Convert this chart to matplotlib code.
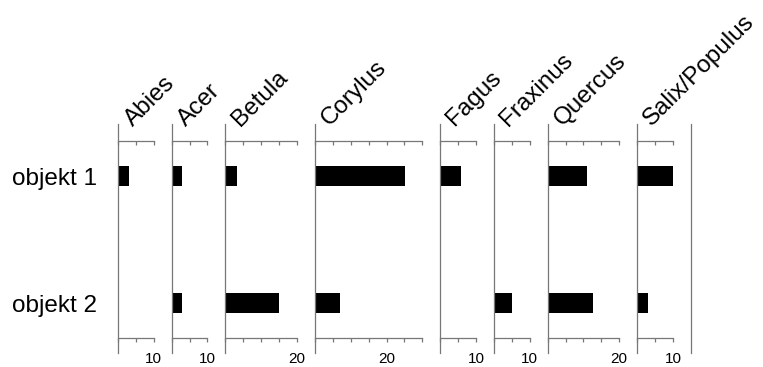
import numpy as np
import matplotlib
matplotlib.use("Agg")
import matplotlib.pyplot as plt

# data
taxa = ["Abies", "Acer", "Betula", "Corylus", "Fagus", "Fraxinus", "Quercus", "Salix/Populus"]
axis_max = [10, 10, 20, 30, 10, 10, 20, 10]
label_at = [10, 10, 20, 20, 10, 10, 20, 10]
samples = ["objekt 1", "objekt 2"]
objekt1 = [3.1, 3.0, 3.3, 25.1, 5.9, 0.0, 10.9, 10.0]
objekt2 = [0.0, 3.0, 15.1, 7.0, 0.0, 5.0, 12.8, 3.1]

plt.rcParams['font.family'] = ['Liberation Sans', 'DejaVu Sans']

W, H = 763, 367
fig = plt.figure(figsize=(W / 100, H / 100), dpi=100)

grey = '#777777'
unit = 3.58          # px per %
x0 = 118             # left edge of first panel (px)
top, bottom = 124, 353
ypos = np.arange(1, len(samples) + 1)
ylim = (2.39, 0.59)
y_top_axis = 0.724
y_bot_axis = 2.276

vals = np.array([objekt1, objekt2])

x = x0
for i, name in enumerate(taxa):
    w = (axis_max[i] + 5) * unit
    ax = fig.add_axes([x / W, 1 - bottom / H, w / W, (bottom - top) / H])
    ax.set_xlim(0, axis_max[i] + 5)
    ax.set_ylim(*ylim)
    ax.barh(ypos, vals[:, i], height=0.157, color='black', linewidth=0)

    ax.spines['right'].set_visible(False)
    ax.spines['left'].set_color(grey)
    ax.spines['left'].set_linewidth(0.9)
    for s, yy in [('top', y_top_axis), ('bottom', y_bot_axis)]:
        ax.spines[s].set_position(('data', yy))
        ax.spines[s].set_bounds(0, axis_max[i])
        ax.spines[s].set_color(grey)
        ax.spines[s].set_linewidth(0.9)

    ticks = list(range(0, axis_max[i] + 1, 5))
    ax.set_xticks(ticks)
    ax.set_xticklabels([str(t) if t == label_at[i] else '' for t in ticks], fontsize=11)
    ax.tick_params(axis='x', which='both', top=True, bottom=True, labeltop=False,
                   labelbottom=True, color=grey, length=3, width=0.9, pad=7,
                   direction='out')
    for t in ax.xaxis.get_major_ticks():
        t.tick2line.set_marker(3)  # downward tick at the top axis
        t.tick2line.set_markersize(3)

    if i == 0:
        ax.set_yticks(ypos)
        ax.set_yticklabels(samples, fontsize=17.5)
        ax.tick_params(axis='y', length=0, pad=15)
    else:
        ax.set_yticks([])

    ax.annotate(name, xy=(0, 1), xycoords='axes fraction', xytext=(10.5, -2),
                textcoords='offset points', rotation=45, rotation_mode='anchor',
                ha='left', va='baseline', fontsize=17.5)
    x += w

# closing line on the right
ax = fig.add_axes([x / W, 1 - bottom / H, 2 / W, (bottom - top) / H])
for s in ['top', 'right', 'bottom']:
    ax.spines[s].set_visible(False)
ax.spines['left'].set_color(grey)
ax.spines['left'].set_linewidth(0.9)
ax.set_xticks([])
ax.set_yticks([])

fig.savefig('out.png', dpi=100)
